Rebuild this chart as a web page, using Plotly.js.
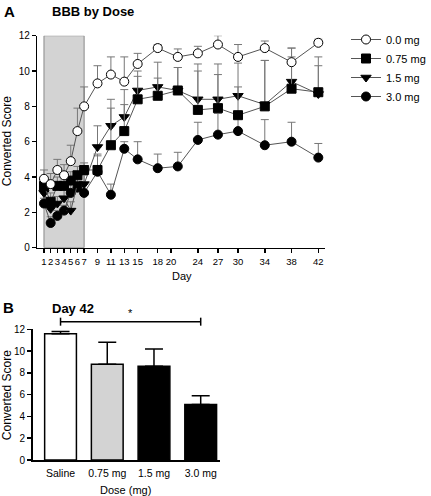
<!DOCTYPE html>
<html>
<head>
<meta charset="utf-8">
<script src="https://cdn.plot.ly/plotly-3.0.1.min.js"></script>
<style>
html,body{margin:0;padding:0;background:#fff;}
#chart{width:431px;height:496px;}
</style>
</head>
<body>
<div id="chart"></div>
<script>
// ---- Data ----
const days = [1, 2, 3, 4, 5, 6, 7, 9, 11, 13, 15, 18, 21, 24, 27, 30, 34, 38, 42];
const dayTicks = [1, 2, 3, 4, 5, 6, 7, 9, 11, 13, 15, 18, 20, 24, 27, 30, 34, 38, 42];

const dose00 = [3.9, 3.6, 4.4, 4.1, 4.9, 6.6, 8.0, 9.3, 9.8, 9.4, 10.4, 11.3, 10.8, 11.0, 11.5, 10.8, 11.3, 10.5, 11.6];
const err00  = [0.5, 0.6, 0.6, 0.6, 0.9, 1.3, 1.1, 1.0, 1.0, 1.4, 0.6, 0.2, 0.45, 0.4, 0.5, 0.7, 0.4, 0.8, 0.2];

const dose075 = [3.5, 2.6, 3.5, 3.5, 3.8, 4.1, 4.4, 4.4, 5.8, 6.6, 8.4, 8.6, 8.9, 7.8, 7.9, 7.5, 8.0, 9.0, 8.8];
const err075  = [0.4, 0.5, 0.5, 0.4, 0.5, 0.5, 0.4, 0.9, 2.1, 1.5, 1.3, 1.0, 1.3, 2.2, 1.9, 1.6, 2.6, 2.3, 2.0];

const dose15 = [3.1, 2.2, 2.5, 2.8, 2.1, 3.6, 3.6, 5.7, 6.9, 7.4, 8.9, 9.1, 8.9, 8.4, 8.4, 8.6, 8.1, 9.4, 8.7];
const err15  = [0.4, 0.5, 0.4, 0.5, 0.5, 0.5, 0.5, 1.2, 1.5, 1.55, 1.1, 1.4, 1.3, 2.0, 2.0, 1.85, 2.5, 1.4, 1.6];

const dose30 = [2.5, 1.4, 1.8, 2.1, 3.1, 3.4, 3.1, 4.3, 3.0, 5.6, 5.0, 4.5, 4.6, 6.1, 6.4, 6.6, 5.8, 6.0, 5.1];
const err30  = [0.3, 0.35, 0.3, 0.3, 0.5, 0.5, 0.5, 0.9, 0.6, 0.4, 1.0, 0.8, 0.8, 1.0, 1.2, 1.0, 1.45, 1.1, 0.8];

const treatStart = 1, treatEnd = 7;

const doseGroups = ['Saline', '0.75 mg', '1.5 mg', '3.0 mg'];
const day42 = [11.6, 8.8, 8.6, 5.1];
const day42Err = [0.2, 2.0, 1.6, 0.8];
const sigFrom = 0, sigTo = 3, sigY = 12.7;

// ---- Styling ----
const FONT = 'Liberation Sans, Arial, Helvetica, sans-serif';
const W = 431, H = 496;
const lineCol = '#555';
const errCol = '#777';

function series(name, y, err, symbol, fill) {
  return {
    type: 'scatter', mode: 'lines+markers', name: name,
    x: days, y: y, xaxis: 'x', yaxis: 'y',
    line: {color: lineCol, width: 1},
    marker: {symbol: symbol, size: 9, color: fill, line: {color: '#000', width: 1}},
    error_y: {type: 'data', symmetric: false, array: err, arrayminus: err.map(() => 0),
              color: errCol, thickness: 1, width: 4},
    cliponaxis: false
  };
}

const traces = [
  series('3.0 mg', dose30, err30, 'circle', '#000'),
  series('1.5 mg', dose15, err15, 'triangle-down', '#000'),
  series('0.75 mg', dose075, err075, 'square', '#000'),
  series('0.0 mg', dose00, err00, 'circle', '#fff'),
  {
    type: 'bar', x: doseGroups, y: day42, xaxis: 'x2', yaxis: 'y2', showlegend: false,
    width: 0.68,
    marker: {color: ['#fff', '#d3d3d3', '#000', '#000'], line: {color: '#000', width: 1.5}},
    error_y: {type: 'data', symmetric: false, array: day42Err, arrayminus: day42Err.map(() => 0),
              color: '#000', thickness: 1.5, width: 9}
  }
];

const xA = [39 / W, 340 / W];
const yA = [1 - 247.7 / H, 1 - 35.7 / H];
const xB = [34 / W, 230 / W];
const yB = [1 - 460 / H, 1 - 329.3 / H];
const xBrange = [-0.6, 3.41];
const yBmax = 12;

function bx(i) { return (i - xBrange[0]) / (xBrange[1] - xBrange[0]); }
function by(v) { return v / yBmax; }
const capH = 4 / 130.7;

const axisCommon = {
  showline: true, linecolor: '#000', linewidth: 1.5, mirror: false,
  ticks: 'outside', ticklen: 4, tickwidth: 1.5, tickcolor: '#000',
  showgrid: false, zeroline: false,
  tickfont: {family: FONT, size: 10, color: '#000'}
};

const layout = {
  width: W, height: H,
  margin: {l: 0, r: 0, t: 0, b: 0},
  paper_bgcolor: '#fff', plot_bgcolor: 'rgba(0,0,0,0)',
  font: {family: FONT, color: '#000'},
  showlegend: true,
  legend: {
    x: 362 / W, y: 1 - 25 / H, xanchor: 'left', yanchor: 'top',
    traceorder: 'reversed', font: {family: FONT, size: 11, color: '#000'},
    bgcolor: 'rgba(0,0,0,0)', tracegroupgap: 0
  },
  xaxis: Object.assign({}, axisCommon, {
    domain: xA, anchor: 'y', range: [0, 43], tickangle: 0,
    tickmode: 'array', tickvals: dayTicks, ticktext: dayTicks.map(String),
    tickfont: {family: FONT, size: 9.5, color: '#000'}
  }),
  yaxis: Object.assign({}, axisCommon, {
    domain: yA, anchor: 'x', range: [0, 12],
    tickmode: 'array', tickvals: [0, 2, 4, 6, 8, 10, 12]
  }),
  xaxis2: Object.assign({}, axisCommon, {
    domain: xB, anchor: 'y2', range: xBrange, type: 'category', tickangle: 0,
    ticks: 'outside', ticklen: 3, tickcolor: 'rgba(0,0,0,0)',
    tickfont: {family: FONT, size: 10.5, color: '#000'}
  }),
  yaxis2: Object.assign({}, axisCommon, {
    domain: yB, anchor: 'x2', range: [0, yBmax],
    tickmode: 'array', tickvals: [0, 2, 4, 6, 8, 10, 12]
  }),
  shapes: [
    {type: 'rect', xref: 'x', yref: 'y', x0: treatStart, x1: treatEnd, y0: 0, y1: 12,
     fillcolor: '#d3d3d3', line: {color: '#888', width: 1}, layer: 'below'},
    {type: 'line', xref: 'x2 domain', yref: 'y2 domain', x0: bx(sigFrom), x1: bx(sigTo),
     y0: by(sigY), y1: by(sigY), line: {color: '#000', width: 1.5}},
    {type: 'line', xref: 'x2 domain', yref: 'y2 domain', x0: bx(sigFrom), x1: bx(sigFrom),
     y0: by(sigY) - capH, y1: by(sigY) + capH, line: {color: '#000', width: 1.5}},
    {type: 'line', xref: 'x2 domain', yref: 'y2 domain', x0: bx(sigTo), x1: bx(sigTo),
     y0: by(sigY) - capH, y1: by(sigY) + capH, line: {color: '#000', width: 1.5}}
  ],
  annotations: [
    {text: '<b>A</b>', xref: 'paper', yref: 'paper', x: 2 / W, y: 1 - 11 / H,
     xanchor: 'left', yanchor: 'middle', showarrow: false, font: {family: FONT, size: 15}},
    {text: '<b>BBB by Dose</b>', xref: 'paper', yref: 'paper', x: 52 / W, y: 1 - 11 / H,
     xanchor: 'left', yanchor: 'middle', showarrow: false, font: {family: FONT, size: 13}},
    {text: 'Converted Score', xref: 'paper', yref: 'paper', x: 7.5 / W, y: 1 - 141 / H,
     xanchor: 'center', yanchor: 'middle', textangle: -90, showarrow: false, font: {family: FONT, size: 12}},
    {text: 'Day', xref: 'paper', yref: 'paper', x: 190 / W, y: 1 - 276 / H,
     xanchor: 'center', yanchor: 'middle', showarrow: false, font: {family: FONT, size: 11}},
    {text: '<b>B</b>', xref: 'paper', yref: 'paper', x: 1 / W, y: 1 - 307 / H,
     xanchor: 'left', yanchor: 'middle', showarrow: false, font: {family: FONT, size: 15}},
    {text: '<b>Day 42</b>', xref: 'paper', yref: 'paper', x: 52 / W, y: 1 - 308 / H,
     xanchor: 'left', yanchor: 'middle', showarrow: false, font: {family: FONT, size: 13}},
    {text: 'Converted Score', xref: 'paper', yref: 'paper', x: 7.5 / W, y: 1 - 395 / H,
     xanchor: 'center', yanchor: 'middle', textangle: -90, showarrow: false, font: {family: FONT, size: 12}},
    {text: 'Dose (mg)', xref: 'paper', yref: 'paper', x: 131 / W, y: 1 - 490 / H,
     xanchor: 'center', yanchor: 'middle', showarrow: false, font: {family: FONT, size: 11}},
    {text: '*', xref: 'x2 domain', yref: 'y2 domain', x: bx((sigFrom + sigTo) / 2), y: by(sigY),
     xanchor: 'center', yanchor: 'bottom', yshift: 1, showarrow: false, font: {family: FONT, size: 11}}
  ]
};

Plotly.newPlot('chart', traces, layout, {staticPlot: true, displayModeBar: false});
</script>
</body>
</html>
